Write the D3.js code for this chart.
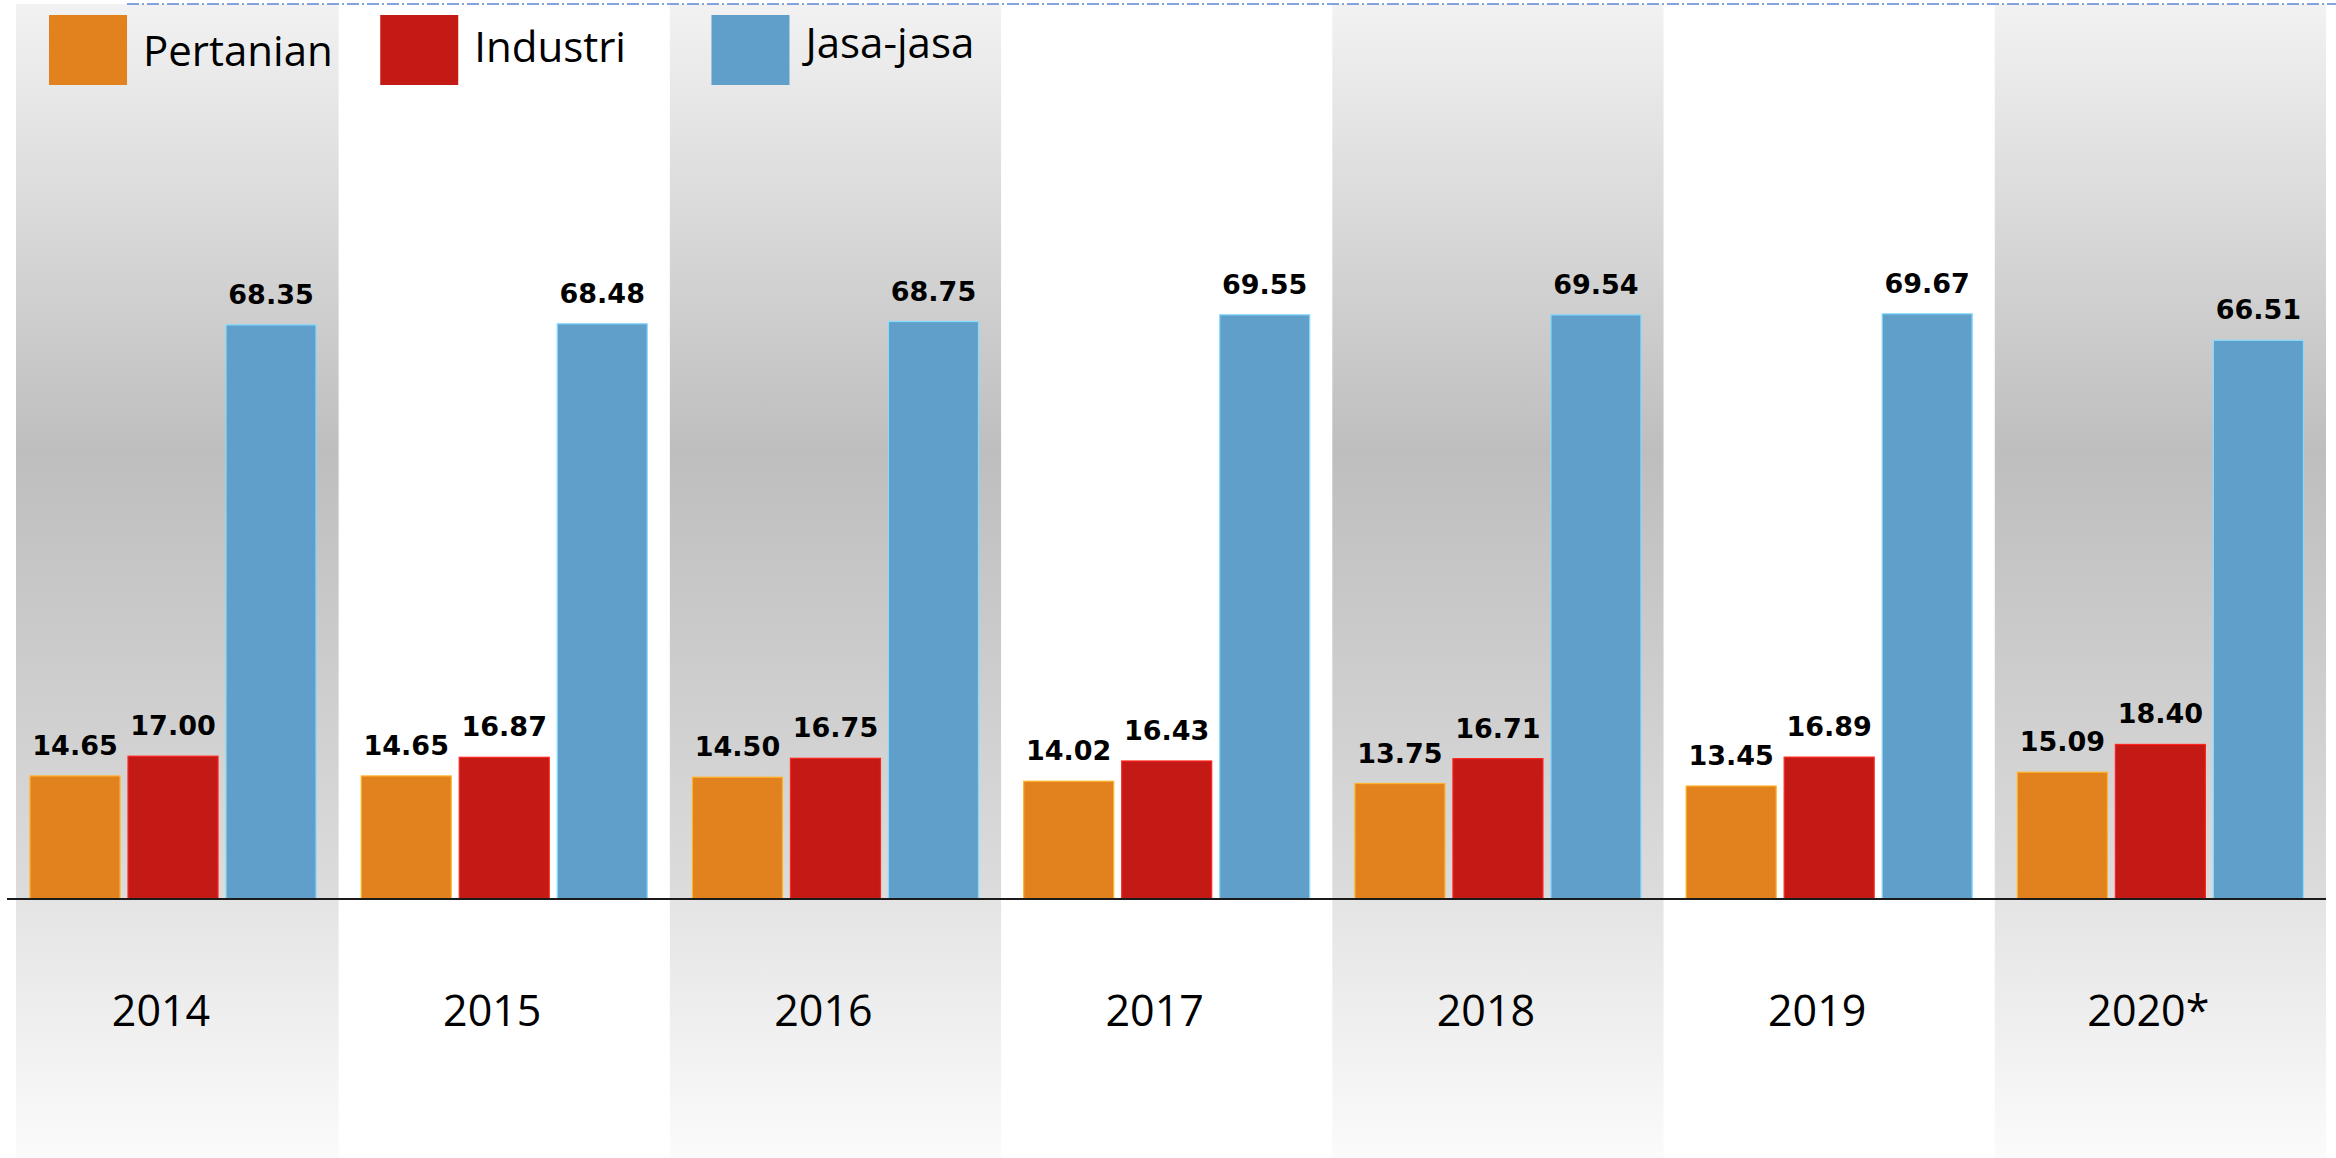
<!DOCTYPE html>
<html>
<head>
<meta charset="utf-8">
<script src="https://cdn.jsdelivr.net/npm/d3@7"></script>
<style>
  html, body { margin: 0; padding: 0; background: #fff; }
  svg { display: block; }
</style>
</head>
<body>
<svg id="chart"></svg>
<script>
const years = ['2014', '2015', '2016', '2017', '2018', '2019', '2020*'];
const series = ['Pertanian', 'Industri', 'Jasa-jasa'];
const pertanian = [14.65, 14.65, 14.50, 14.02, 13.75, 13.45, 15.09];
const industri = [17.00, 16.87, 16.75, 16.43, 16.71, 16.89, 18.40];
const jasa = [68.35, 68.48, 68.75, 69.55, 69.54, 69.67, 66.51];

const colors = ['#e2821e', '#c41a16', '#619fcb'];

const width = 2336;
const height = 1158;
const baseY = 899;

const svg = d3.select('#chart')
  .attr('width', width)
  .attr('height', height);

const values = [pertanian, industri, jasa];
const rows = years.map((y, i) => ({
  year: y,
  items: series.map((s, j) => ({ key: s, value: values[j][i] }))
}));

const x0 = d3.scaleBand()
  .domain(years)
  .range([7.4, 2326])
  .paddingInner(0.1365)
  .paddingOuter(0.06825);

const x1 = d3.scaleBand()
  .domain(series)
  .range([0, x0.bandwidth()])
  .paddingInner(0.0816);

const y = d3.scaleLinear()
  .domain([0, 100])
  .range([baseY, baseY - 840]);

const color = d3.scaleOrdinal().domain(series).range(colors);

// background gradients for the alternating bands
const defs = svg.append('defs');
const gUp = defs.append('linearGradient')
  .attr('id', 'bandUp').attr('x1', 0).attr('y1', 0).attr('x2', 0).attr('y2', 1);
gUp.append('stop').attr('offset', '0%').attr('stop-color', '#f2f2f2');
gUp.append('stop').attr('offset', '50%').attr('stop-color', '#bebebe');
gUp.append('stop').attr('offset', '100%').attr('stop-color', '#dcdcdc');

const gDown = defs.append('linearGradient')
  .attr('id', 'bandDown').attr('x1', 0).attr('y1', 0).attr('x2', 0).attr('y2', 1);
gDown.append('stop').attr('offset', '0%').attr('stop-color', '#e4e4e4');
gDown.append('stop').attr('offset', '100%').attr('stop-color', '#fbfbfb');

const gap = x0.step() - x0.bandwidth();
const shaded = years.filter((d, i) => i % 2 === 0);

const bandX = d => Math.max(x0(d) - gap / 2, 16);
const bandW = d => x0(d) + x0.bandwidth() + gap / 2 - bandX(d);

svg.append('g').selectAll('rect')
  .data(shaded)
  .join('rect')
  .attr('x', bandX)
  .attr('y', 4)
  .attr('width', bandW)
  .attr('height', baseY - 4)
  .attr('fill', 'url(#bandUp)');

svg.append('g').selectAll('rect')
  .data(shaded)
  .join('rect')
  .attr('x', bandX)
  .attr('y', baseY)
  .attr('width', bandW)
  .attr('height', height - baseY)
  .attr('fill', 'url(#bandDown)');

// dash-dot line along the top
svg.append('line')
  .attr('x1', 127).attr('x2', width)
  .attr('y1', 4).attr('y2', 4)
  .attr('stroke', '#5b87d6')
  .attr('stroke-width', 1.5)
  .attr('stroke-dasharray', '12,3,2,3');

// bars
const groups = svg.append('g').selectAll('g')
  .data(rows)
  .join('g')
  .attr('transform', d => `translate(${x0(d.year)},0)`);

groups.selectAll('rect')
  .data(d => d.items)
  .join('rect')
  .attr('x', d => x1(d.key))
  .attr('y', d => y(d.value))
  .attr('width', x1.bandwidth())
  .attr('height', d => baseY - y(d.value))
  .attr('fill', d => color(d.key))
  .attr('stroke', d => d3.color(color(d.key)).brighter(0.9))
  .attr('stroke-width', 1.2);

groups.selectAll('text')
  .data(d => d.items)
  .join('text')
  .attr('x', d => x1(d.key) + x1.bandwidth() / 2)
  .attr('y', d => y(d.value) - 21)
  .attr('text-anchor', 'middle')
  .style('font-family', '"DejaVu Sans", sans-serif')
  .style('font-weight', 'bold')
  .style('font-size', '27px')
  .attr('fill', '#000')
  .text(d => d.value.toFixed(2));

// baseline
svg.append('line')
  .attr('x1', 7).attr('x2', 2326)
  .attr('y1', baseY).attr('y2', baseY)
  .attr('stroke', '#1a1a1a')
  .attr('stroke-width', 2);

// category labels below the axis
svg.append('g').selectAll('text')
  .data(years)
  .join('text')
  .attr('x', d => x0(d) + x0.bandwidth() / 2 - 12)
  .attr('y', 1026)
  .attr('text-anchor', 'middle')
  .style('font-family', '"Open Sans", sans-serif')
  .style('font-size', '43px')
  .attr('fill', '#000')
  .text(d => d);

// legend, one entry per band
const legend = svg.append('g').selectAll('g')
  .data(series)
  .join('g')
  .attr('transform', (d, i) => `translate(${x0(years[i]) + 19},15)`);

legend.append('rect')
  .attr('width', 78)
  .attr('height', 70)
  .attr('fill', d => color(d));

legend.append('text')
  .attr('x', 94)
  .attr('y', (d, i) => 51 - i * 4)
  .style('font-family', '"Open Sans", sans-serif')
  .style('font-size', '42px')
  .attr('fill', '#000')
  .text(d => d);
</script>
</body>
</html>
